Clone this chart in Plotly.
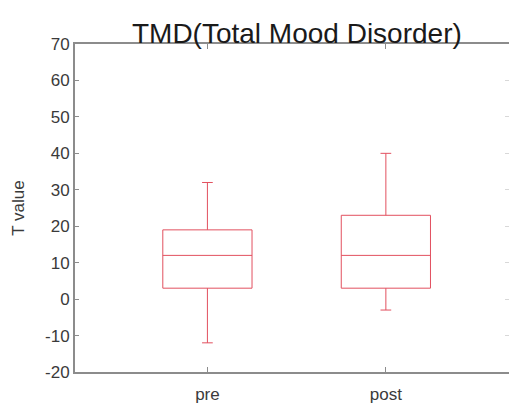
import plotly.graph_objects as go

# Group labels and five-number summaries of the T values
groups = ["pre", "post"]
q1_vals = [3, 3]
median_vals = [12, 12]
q3_vals = [19, 23]
lower_whisker = [-12, -3]
upper_whisker = [32, 40]

y_ticks = [-20, -10, 0, 10, 20, 30, 40, 50, 60, 70]
y_tick_text = ["-20", "-10", "0", "10", "20", "30", "40", "50", "60", "70"]

FONT = "Liberation Sans Narrow, Arial Narrow, Liberation Sans, Arial, sans-serif"
AXIS_GRAY = "#8c8c8c"
TEXT_GRAY = "#3a3a3a"
BOX_RED = "#e2505f"

fig = go.Figure()
fig.add_trace(go.Box(
    x=groups,
    q1=q1_vals,
    median=median_vals,
    q3=q3_vals,
    lowerfence=lower_whisker,
    upperfence=upper_whisker,
    width=0.5,
    whiskerwidth=0.12,
    line=dict(color=BOX_RED, width=1),
    fillcolor="rgba(255,255,255,0)",
    boxpoints=False,
    showlegend=False,
    hoverinfo="skip",
))

# invisible trace on the secondary y-axis so its ticks render on the right side
fig.add_trace(go.Scatter(x=[groups[0]], y=[None], yaxis="y2", showlegend=False,
                         hoverinfo="skip"))

fig.update_layout(
    width=511,
    height=406,
    margin=dict(l=75, r=2, t=44, b=34),
    paper_bgcolor="white",
    plot_bgcolor="white",
    title=dict(
        text="TMD(Total Mood Disorder)",
        font=dict(family=FONT, size=28, color="#1a1a1a"),
        x=0.581, xanchor="center",
        y=1.0, yref="paper", yanchor="bottom", pad=dict(b=1),
    ),
    xaxis=dict(
        type="category",
        categoryorder="array",
        categoryarray=groups,
        range=[-0.742, 1.69],
        showline=True, linecolor=AXIS_GRAY, linewidth=2,
        mirror="ticks",
        ticks="inside", ticklen=5, tickcolor=AXIS_GRAY, tickwidth=1,
        ticklabelstandoff=6,
        tickfont=dict(family=FONT, size=17, color=TEXT_GRAY),
        showgrid=False, zeroline=False,
    ),
    yaxis=dict(
        range=[-20, 70],
        tickvals=y_ticks,
        ticktext=y_tick_text,
        showline=True, linecolor=AXIS_GRAY, linewidth=2,
        ticks="inside", ticklen=4, tickcolor=AXIS_GRAY, tickwidth=1,
        tickfont=dict(family=FONT, size=17, color=TEXT_GRAY),
        title=dict(text="T value", font=dict(family=FONT, size=17, color=TEXT_GRAY),
                   standoff=16),
        showgrid=False, zeroline=False,
    ),
    yaxis2=dict(
        range=[-20, 70],
        tickvals=y_ticks,
        overlaying="y", side="right",
        showline=False, showticklabels=False,
        ticks="inside", ticklen=4, tickcolor="#d8d8d8", tickwidth=1,
        showgrid=False, zeroline=False,
    ),
)

fig.write_html("out.html")
